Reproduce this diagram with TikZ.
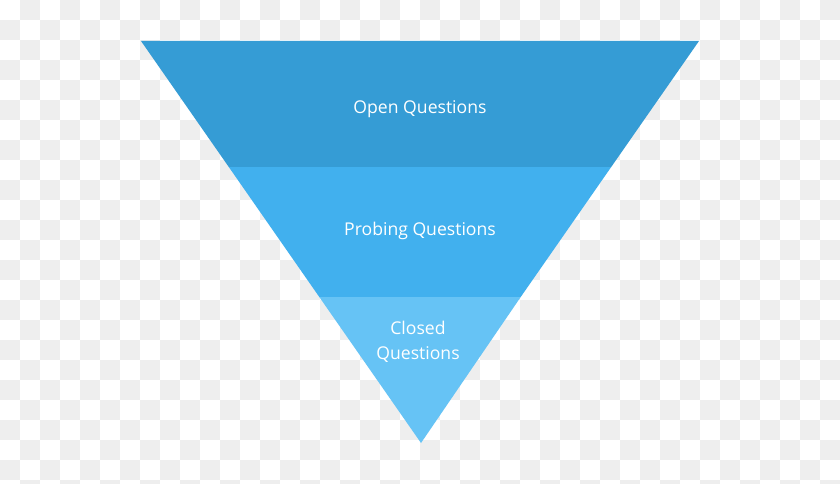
\documentclass[tikz,border=0pt]{standalone}
\usepackage{fontspec}
\setmainfont{Open Sans}
\definecolor{cA}{HTML}{359CD5}
\definecolor{cB}{HTML}{41B0EE}
\definecolor{cC}{HTML}{66C3F5}
\definecolor{chk}{HTML}{EEEEEE}
\begin{document}
\begin{tikzpicture}[x=1pt,y=-1pt,lbl/.style={text=white,font=\fontsize{17.6}{25}\selectfont,align=center}]
\useasboundingbox (0,0) rectangle (840,484);
\fill[white] (0,0) rectangle (840,484);
\foreach \i in {0,...,41}{\foreach \j in {0,...,24}{
  \pgfmathparse{int(mod(\i+\j,2))}
  \ifnum\pgfmathresult=1 \fill[chk] (\i*20,\j*20) rectangle ++(20,20);\fi}}
\coordinate (tl) at (141,41); \coordinate (tr) at (699,41); \coordinate (ap) at (421,443);
\coordinate (l1) at (228.8,167); \coordinate (r1) at (611.2,167);
\coordinate (l2) at (319.3,297); \coordinate (r2) at (520.7,297);
\fill[cA] (tl) -- (tr) -- (r1) -- (l1) -- cycle;
\fill[cB] (l1) -- (r1) -- (r2) -- (l2) -- cycle;
\fill[cC] (l2) -- (r2) -- (ap) -- cycle;
\node[lbl] (a) at (420,109) {Open Questions};
\node[lbl] (b) at (420,231) {Probing Questions};
\node[lbl] (c) at (418,342) {Closed\\Questions};
\end{tikzpicture}
\end{document}
